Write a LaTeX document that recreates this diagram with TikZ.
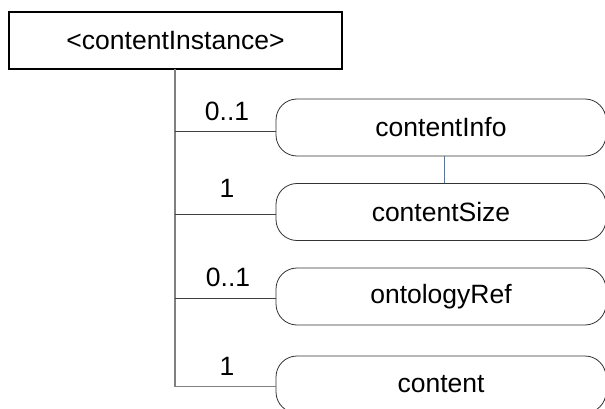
\documentclass[tikz,border=0pt]{standalone}
\usepackage{fontspec}
\setmainfont{Liberation Sans}
\begin{document}
\begin{tikzpicture}[x=1pt,y=-1pt,
  txt/.style={font=\fontsize{26.5}{30}\selectfont},
  rootbox/.style={draw=black, line width=1.2pt, minimum width=333pt, minimum height=57pt, inner sep=0pt, txt},
  elem/.style={draw=black!80, line width=0.8pt, rounded corners=21pt, minimum width=330pt, minimum height=57pt, inner sep=0pt, txt},
  trunk/.style={draw=gray, line width=1.4pt},
  branch/.style={draw=black!75, line width=0.8pt},
  mult/.style={txt, inner sep=0pt},
  link/.style={draw={rgb,255:red,70;green,120;blue,200}, line width=0.7pt}
]
\useasboundingbox (0,0) rectangle (605,409);
\clip (0,0) rectangle (605,409);
\node[rootbox] (root) at (175.5,40.5) {<contentInstance>};
\node[elem] (info) at (441,127.5) {contentInfo};
\node[elem] (size) at (441,212) {contentSize};
\node[elem] (onto) at (441,296.5) {ontologyRef};
\node[elem] (cont) at (441,384.5) {content};
\coordinate (top) at (175,69);
\coordinate (bot) at (175,386.5);
\coordinate (j1) at (175,131);
\coordinate (j2) at (175,214);
\coordinate (j3) at (175,298);
\draw[trunk] (top) -- (bot);
\draw[branch] (j1) -- (info.west |- j1);
\draw[branch] (j2) -- (size.west |- j2);
\draw[branch] (j3) -- (onto.west |- j3);
\draw[trunk, line width=1.2pt] (bot) -- (cont.west |- bot);
\node[mult] (m1) at (227,111) {0..1};
\node[mult] (m2) at (227,188) {1};
\node[mult] (m3) at (228,277) {0..1};
\node[mult] (m4) at (227,366) {1};
\draw[link] (info.south -| 444,0) -- (size.north -| 444,0);
\end{tikzpicture}
\end{document}
